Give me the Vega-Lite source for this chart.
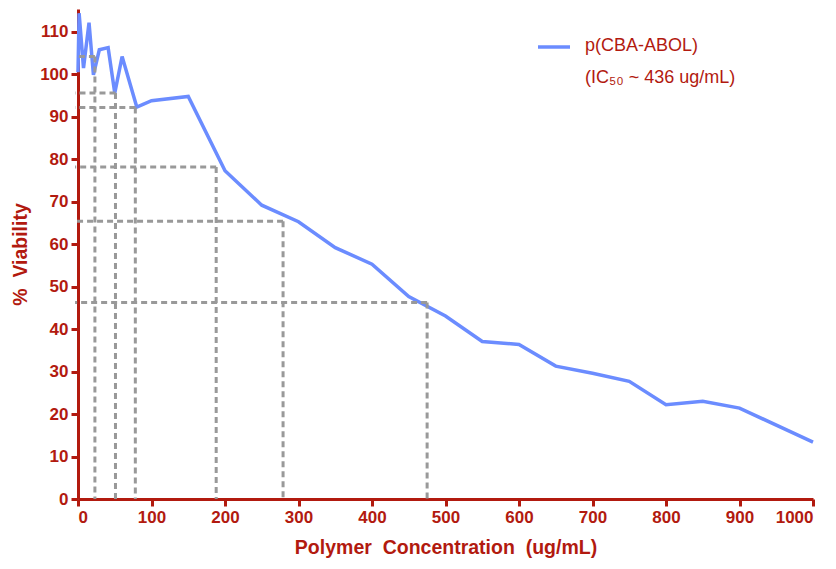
{
  "$schema": "https://vega.github.io/schema/vega-lite/v6.json",
  "width": 735,
  "height": 490,
  "autosize": {"type": "none"},
  "padding": {"left": 78, "top": 9, "right": 23, "bottom": 70},
  "background": "white",
  "config": {
    "view": {"stroke": null},
    "axis": {
      "grid": false,
      "domainColor": "#b21a0f",
      "domainWidth": 3,
      "tickColor": "#b21a0f",
      "tickWidth": 3,
      "tickSize": 7,
      "labelColor": "#b21a0f",
      "labelFont": "Liberation Sans",
      "labelFontWeight": "bold",
      "labelFontSize": 17,
      "labelPadding": 3,
      "titleColor": "#b21a0f",
      "titleFont": "Liberation Sans",
      "titleFontWeight": "bold",
      "titleFontSize": 19.5
    }
  },
  "datasets": {
    "curve": [
      {"conc": 0, "viability": 100.5, "series": "p(CBA-ABOL)"},
      {"conc": 1.5, "viability": 114.4, "series": "p(CBA-ABOL)"},
      {"conc": 7.5, "viability": 101.5, "series": "p(CBA-ABOL)"},
      {"conc": 15, "viability": 112.2, "series": "p(CBA-ABOL)"},
      {"conc": 21, "viability": 99.9, "series": "p(CBA-ABOL)"},
      {"conc": 29, "viability": 105.8, "series": "p(CBA-ABOL)"},
      {"conc": 41, "viability": 106.3, "series": "p(CBA-ABOL)"},
      {"conc": 50, "viability": 95.6, "series": "p(CBA-ABOL)"},
      {"conc": 60, "viability": 104.2, "series": "p(CBA-ABOL)"},
      {"conc": 80, "viability": 92.3, "series": "p(CBA-ABOL)"},
      {"conc": 100, "viability": 93.8, "series": "p(CBA-ABOL)"},
      {"conc": 150, "viability": 94.8, "series": "p(CBA-ABOL)"},
      {"conc": 200, "viability": 77.3, "series": "p(CBA-ABOL)"},
      {"conc": 250, "viability": 69.2, "series": "p(CBA-ABOL)"},
      {"conc": 300, "viability": 65.3, "series": "p(CBA-ABOL)"},
      {"conc": 350, "viability": 59.2, "series": "p(CBA-ABOL)"},
      {"conc": 400, "viability": 55.3, "series": "p(CBA-ABOL)"},
      {"conc": 450, "viability": 47.7, "series": "p(CBA-ABOL)"},
      {"conc": 500, "viability": 43.1, "series": "p(CBA-ABOL)"},
      {"conc": 550, "viability": 37.1, "series": "p(CBA-ABOL)"},
      {"conc": 600, "viability": 36.4, "series": "p(CBA-ABOL)"},
      {"conc": 650, "viability": 31.3, "series": "p(CBA-ABOL)"},
      {"conc": 700, "viability": 29.6, "series": "p(CBA-ABOL)"},
      {"conc": 750, "viability": 27.7, "series": "p(CBA-ABOL)"},
      {"conc": 800, "viability": 22.2, "series": "p(CBA-ABOL)"},
      {"conc": 850, "viability": 23.0, "series": "p(CBA-ABOL)"},
      {"conc": 900, "viability": 21.4, "series": "p(CBA-ABOL)"},
      {"conc": 1000, "viability": 13.4, "series": "p(CBA-ABOL)"}
    ],
    "guides": [
      {"conc": 23, "viability": 104.2},
      {"conc": 51, "viability": 95.6},
      {"conc": 78, "viability": 92.2},
      {"conc": 188, "viability": 78.2},
      {"conc": 279, "viability": 65.4},
      {"conc": 475, "viability": 46.3}
    ]
  },
  "layer": [
    {
      "data": {"name": "curve"},
      "mark": {"type": "line", "strokeWidth": 3.5, "strokeJoin": "miter"},
      "encoding": {
        "x": {
          "field": "conc",
          "type": "quantitative",
          "scale": {"domain": [0, 1000], "nice": false, "zero": false},
          "axis": {
            "title": "Polymer\u00a0\u00a0Concentration\u00a0\u00a0(ug/mL)",
            "values": [0, 100, 200, 300, 400, 500, 600, 700, 800, 900, 1000],
            "format": "d",
            "titlePadding": 13
          }
        },
        "y": {
          "field": "viability",
          "type": "quantitative",
          "scale": {"domain": [0, 115.4], "nice": false},
          "axis": {
            "title": "%\u00a0\u00a0Viability",
            "values": [0, 10, 20, 30, 40, 50, 60, 70, 80, 90, 100, 110],
            "titlePadding": 9
          }
        },
        "color": {
          "field": "series",
          "type": "nominal",
          "scale": {"range": ["#6b8cff"]},
          "legend": {
            "orient": "none",
            "legendX": 458,
            "legendY": 20,
            "title": null,
            "symbolType": "stroke",
            "symbolStrokeWidth": 3.5,
            "symbolSize": 1024,
            "labelFont": "Liberation Sans",
            "labelFontSize": 18,
            "labelColor": "#b21a0f",
            "labelOffset": 13,
            "labelLimit": 400,
            "labelBaseline": "top",
            "labelExpr": "['p(CBA-ABOL)', '\u00a0(IC₅₀ ~ 436 ug/mL)']",
            "encoding": {
              "labels": {"lineHeight": {"value": 32}, "dy": {"value": -10}}
            }
          }
        }
      }
    },
    {
      "data": {"name": "guides"},
      "mark": {"type": "rule", "color": "#999999", "strokeWidth": 3, "strokeDash": [6, 4]},
      "encoding": {
        "x": {"field": "conc", "type": "quantitative"},
        "x2": {"datum": -4},
        "y": {"field": "viability", "type": "quantitative"}
      }
    },
    {
      "data": {"name": "guides"},
      "mark": {"type": "rule", "color": "#999999", "strokeWidth": 3, "strokeDash": [6, 4]},
      "encoding": {
        "x": {"field": "conc", "type": "quantitative"},
        "y": {"field": "viability", "type": "quantitative"},
        "y2": {"datum": 0}
      }
    }
  ]
}
